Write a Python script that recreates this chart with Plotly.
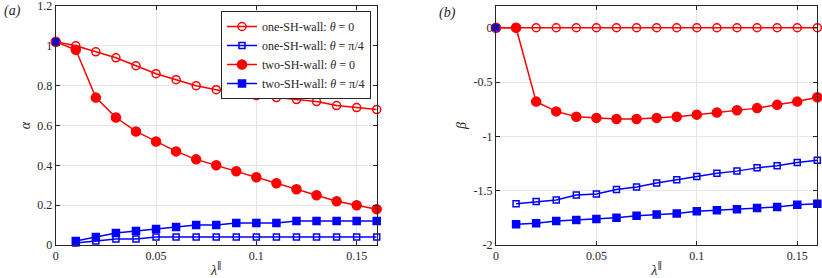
import plotly.graph_objects as go

lam = [0.00, 0.01, 0.02, 0.03, 0.04, 0.05, 0.06, 0.07, 0.08, 0.09, 0.10, 0.11, 0.12, 0.13, 0.14, 0.15, 0.16]
lam_pi4 = lam[1:]

# panel (a): alpha
alpha_one_0 = [1.02, 1.00, 0.97, 0.94, 0.90, 0.86, 0.83, 0.80, 0.78, 0.76, 0.75, 0.74, 0.73, 0.72, 0.70, 0.69, 0.68]
alpha_two_0 = [1.02, 0.98, 0.74, 0.64, 0.57, 0.52, 0.47, 0.43, 0.40, 0.37, 0.34, 0.31, 0.28, 0.25, 0.22, 0.20, 0.18]
alpha_one_pi4 = [0.01, 0.02, 0.03, 0.03, 0.04, 0.04, 0.04, 0.04, 0.04, 0.04, 0.04, 0.04, 0.04, 0.04, 0.04, 0.04]
alpha_two_pi4 = [0.02, 0.04, 0.06, 0.07, 0.08, 0.09, 0.10, 0.10, 0.11, 0.11, 0.11, 0.12, 0.12, 0.12, 0.12, 0.12]

# panel (b): beta
beta_one_0 = [0.0] * 17
beta_two_0 = [0.0, 0.0, -0.68, -0.77, -0.82, -0.83, -0.84, -0.84, -0.83, -0.82, -0.80, -0.78, -0.76, -0.74, -0.71, -0.68, -0.64]
beta_one_pi4 = [-1.62, -1.60, -1.585, -1.54, -1.53, -1.49, -1.465, -1.43, -1.40, -1.37, -1.34, -1.32, -1.29, -1.27, -1.24, -1.22]
beta_two_pi4 = [-1.81, -1.80, -1.78, -1.77, -1.76, -1.75, -1.73, -1.72, -1.71, -1.69, -1.68, -1.67, -1.66, -1.65, -1.63, -1.62]

# reference point at lambda = 0
start_x = [0.0]
start_alpha = [1.02]
start_beta = [0.0]

alpha_ticks = [0, 0.2, 0.4, 0.6, 0.8, 1, 1.2]
alpha_ticktext = ["0", "0.2", "0.4", "0.6", "0.8", "1", "1.2"]
beta_ticks = [-2, -1.5, -1, -0.5, 0]
beta_ticktext = ["-2", "-1.5", "-1", "-0.5", "0"]
xticks = [0, 0.05, 0.1, 0.15]
xticktext = ["0", "0.05", "0.1", "0.15"]

names = ["one-SH-wall: <i>θ</i> = 0", "one-SH-wall: <i>θ</i> = π/4",
         "two-SH-wall: <i>θ</i> = 0", "two-SH-wall: <i>θ</i> = π/4"]

RED = "#ff0000"
BLUE = "#0000ff"
FONT = "Liberation Serif, Times New Roman, DejaVu Serif, serif"
INK = "#262626"

fig = go.Figure()

def add(x, y, name, color, symbol, size, xa, ya, legend):
    fig.add_trace(go.Scatter(
        x=x, y=y, name=name, mode="lines+markers", xaxis=xa, yaxis=ya,
        showlegend=legend, legendgroup=name, cliponaxis=False,
        line=dict(color=color, width=1.5),
        marker=dict(symbol=symbol, size=size, color=color,
                    line=dict(color=color, width=1.5)),
    ))

for xa, ya, leg, s1, s2, s3, s4, st in [
    ("x", "y", True, alpha_one_0, alpha_one_pi4, alpha_two_0, alpha_two_pi4, start_alpha),
    ("x2", "y2", False, beta_one_0, beta_one_pi4, beta_two_0, beta_two_pi4, start_beta),
]:
    add(lam, s1, names[0], RED, "circle-open", 8, xa, ya, leg)
    add(lam_pi4, s2, names[1], BLUE, "square-open", 6, xa, ya, leg)
    add(lam, s3, names[2], RED, "circle", 9, xa, ya, leg)
    add(lam_pi4, s4, names[3], BLUE, "square", 7, xa, ya, leg)
    fig.add_trace(go.Scatter(x=start_x, y=st, mode="markers", xaxis=xa, yaxis=ya,
                             showlegend=False, cliponaxis=False,
                             marker=dict(symbol="square", size=7, color=BLUE)))

ax_common = dict(
    showline=True, linecolor=INK, linewidth=1, mirror="ticks",
    ticks="inside", ticklen=4, tickcolor=INK, automargin=False,
    ticklabeloverflow="allow",
    showgrid=True, gridcolor="#e6e6e6", gridwidth=1, zeroline=False,
    tickfont=dict(family=FONT, size=12, color=INK),
)

EPS = 1e-6
fig.update_layout(
    width=822, height=278,
    margin=dict(l=0, r=0, t=0, b=0, autoexpand=False),
    paper_bgcolor="white", plot_bgcolor="white",
    font=dict(family=FONT, size=12, color=INK),
    xaxis=dict(domain=[0.0678, 0.4583], range=[0, 0.16 + EPS], tickvals=xticks, ticktext=xticktext,
               title=dict(text="<i>λ</i><sup>∥</sup>", font=dict(family=FONT, size=14), standoff=2),
               anchor="y", **ax_common),
    yaxis=dict(domain=[0.1187, 0.9784], range=[-EPS, 1.2 + EPS], tickvals=alpha_ticks,
               ticktext=alpha_ticktext,
               title=dict(text="<i>α</i>", font=dict(family=FONT, size=14), standoff=3),
               anchor="x", **ax_common),
    xaxis2=dict(domain=[0.6034, 0.9943], range=[0, 0.16 + EPS], tickvals=xticks, ticktext=xticktext,
                title=dict(text="<i>λ</i><sup>∥</sup>", font=dict(family=FONT, size=14), standoff=2),
                anchor="y2", **ax_common),
    yaxis2=dict(domain=[0.1187, 0.9784], range=[-2 - EPS, 0.2 + EPS], tickvals=beta_ticks,
                ticktext=beta_ticktext,
                title=dict(text="<i>β</i>", font=dict(family=FONT, size=14), standoff=3),
                anchor="x2", **ax_common),
    legend=dict(x=371 / 822, y=1 - 11 / 278, xanchor="right", yanchor="top",
                bgcolor="white", bordercolor=INK, borderwidth=1,
                font=dict(family=FONT, size=12, color=INK),
                itemwidth=30, tracegroupgap=0),
    annotations=[
        dict(text="<i>(a)</i>", x=2 / 822, y=1 - 1 / 278, xref="paper", yref="paper",
             xanchor="left", yanchor="top", showarrow=False, font=dict(family=FONT, size=14)),
        dict(text="<i>(b)</i>", x=437 / 822, y=1 - 3 / 278, xref="paper", yref="paper",
             xanchor="left", yanchor="top", showarrow=False, font=dict(family=FONT, size=14)),
    ],
)

fig.write_html("out.html", config={"displayModeBar": False},
               post_script="document.body.style.margin='0';")
